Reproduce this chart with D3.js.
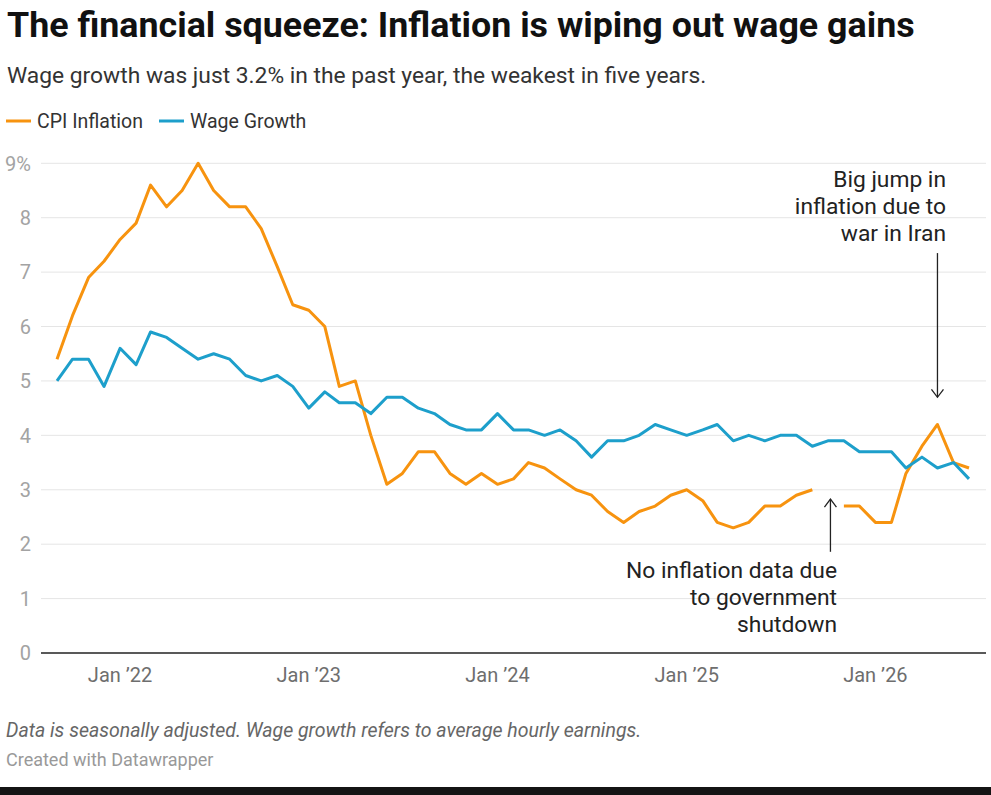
<!DOCTYPE html>
<html>
<head>
<meta charset="utf-8">
<script src="https://cdn.jsdelivr.net/npm/d3@7"></script>
<style>
  body { margin: 0; background: #fff; }
  svg { display: block; font-family: Roboto, "Noto Sans", sans-serif; }
</style>
</head>
<body>
<div id="chart"></div>
<script>
var w = 991;
var h = 795;

// monthly data, Sep 2021 - Jul 2026
var months = [
  "2021-09", "2021-10", "2021-11", "2021-12",
  "2022-01", "2022-02", "2022-03", "2022-04", "2022-05", "2022-06",
  "2022-07", "2022-08", "2022-09", "2022-10", "2022-11", "2022-12",
  "2023-01", "2023-02", "2023-03", "2023-04", "2023-05", "2023-06",
  "2023-07", "2023-08", "2023-09", "2023-10", "2023-11", "2023-12",
  "2024-01", "2024-02", "2024-03", "2024-04", "2024-05", "2024-06",
  "2024-07", "2024-08", "2024-09", "2024-10", "2024-11", "2024-12",
  "2025-01", "2025-02", "2025-03", "2025-04", "2025-05", "2025-06",
  "2025-07", "2025-08", "2025-09", "2025-10", "2025-11", "2025-12",
  "2026-01", "2026-02", "2026-03", "2026-04", "2026-05", "2026-06",
  "2026-07"
];

var cpi = [
  5.4, 6.2, 6.9, 7.2,
  7.6, 7.9, 8.6, 8.2, 8.5, 9.0, 8.5, 8.2, 8.2, 7.8, 7.1, 6.4,
  6.3, 6.0, 4.9, 5.0, 4.0, 3.1, 3.3, 3.7, 3.7, 3.3, 3.1, 3.3,
  3.1, 3.2, 3.5, 3.4, 3.2, 3.0, 2.9, 2.6, 2.4, 2.6, 2.7, 2.9,
  3.0, 2.8, 2.4, 2.3, 2.4, 2.7, 2.7, 2.9, 3.0, null, 2.7, 2.7,
  2.4, 2.4, 3.3, 3.8, 4.2, 3.5, 3.4
];

var wages = [
  5.0, 5.4, 5.4, 4.9,
  5.6, 5.3, 5.9, 5.8, 5.6, 5.4, 5.5, 5.4, 5.1, 5.0, 5.1, 4.9,
  4.5, 4.8, 4.6, 4.6, 4.4, 4.7, 4.7, 4.5, 4.4, 4.2, 4.1, 4.1,
  4.4, 4.1, 4.1, 4.0, 4.1, 3.9, 3.6, 3.9, 3.9, 4.0, 4.2, 4.1,
  4.0, 4.1, 4.2, 3.9, 4.0, 3.9, 4.0, 4.0, 3.8, 3.9, 3.9, 3.7,
  3.7, 3.7, 3.4, 3.6, 3.4, 3.5, 3.2
];

var seriesNames = ["CPI Inflation", "Wage Growth"];
var colors = ["#f7930f", "#1d9fcb"];
var yTicks = [0, 1, 2, 3, 4, 5, 6, 7, 8, 9];
var xTickYears = ["2022", "2023", "2024", "2025", "2026"];

var parseMonth = d3.timeParse("%Y-%m");
var dates = months.map(parseMonth);

var svg = d3
  .select("#chart")
  .append("svg")
  .attr("width", w)
  .attr("height", h);

svg.append("rect").attr("width", w).attr("height", h).attr("fill", "#fff");

// Header
svg.append("text")
  .attr("x", 7)
  .attr("y", 37)
  .attr("font-size", 35.8)
  .attr("font-weight", 700)
  .attr("fill", "#111")
  .text("The financial squeeze: Inflation is wiping out wage gains");

svg.append("text")
  .attr("x", 7)
  .attr("y", 83)
  .attr("font-size", 22.8)
  .attr("fill", "#333")
  .text("Wage growth was just 3.2% in the past year, the weakest in five years.");

// Legend
var legend = svg.append("g").attr("transform", "translate(6,121)");
var legendX = [0, 153];
seriesNames.forEach(function (name, i) {
  var g = legend.append("g").attr("transform", "translate(" + legendX[i] + ",0)");
  g.append("line")
    .attr("x1", 0).attr("x2", 25)
    .attr("stroke", colors[i])
    .attr("stroke-width", 3);
  g.append("text")
    .attr("x", 31)
    .attr("y", 7)
    .attr("font-size", 19.5)
    .attr("fill", "#333")
    .text(name);
});

// Scales
var plotLeft = 41;
var plotRight = 986;

const xScale = d3
  .scaleTime()
  .domain(d3.extent(dates))
  .range([57, 969]);

const yScale = d3
  .scaleLinear()
  .domain([0, 9])
  .range([653, 163.3]);

// Grid + y labels
var grid = svg.append("g");
yTicks.forEach(function (t) {
  if (t > 0) {
    grid.append("line")
      .attr("x1", plotLeft).attr("x2", plotRight)
      .attr("y1", yScale(t)).attr("y2", yScale(t))
      .attr("stroke", "#e5e5e5")
      .attr("stroke-width", 1);
  }
  grid.append("text")
    .attr("x", 31)
    .attr("y", yScale(t))
    .attr("dy", "0.36em")
    .attr("text-anchor", "end")
    .attr("font-size", 20)
    .attr("fill", "#a3a3a3")
    .text(t === 9 ? "9%" : t);
});

// x axis labels
var fmtYear = d3.timeFormat("%y");
xTickYears.forEach(function (y) {
  var d = parseMonth(y + "-01");
  svg.append("text")
    .attr("x", xScale(d))
    .attr("y", 682)
    .attr("text-anchor", "middle")
    .attr("font-size", 20)
    .attr("fill", "#6e6e6e")
    .text("Jan \u2019" + fmtYear(d));
});

// Lines
var line = d3.line()
  .defined(function (d) { return d.v !== null; })
  .x(function (d) { return xScale(d.date); })
  .y(function (d) { return yScale(d.v); });

[cpi, wages].forEach(function (vals, i) {
  var pts = vals.map(function (v, j) { return { date: dates[j], v: v }; });
  svg.append("path")
    .datum(pts)
    .attr("fill", "none")
    .attr("stroke", colors[i])
    .attr("stroke-width", 3)
    .attr("stroke-linejoin", "round")
    .attr("d", line);
});

// Baseline
svg.append("line")
  .attr("x1", plotLeft).attr("x2", plotRight)
  .attr("y1", yScale(0)).attr("y2", yScale(0))
  .attr("stroke", "#222")
  .attr("stroke-width", 1.4);

// Annotations
function arrow(x, yFrom, yTo) {
  var g = svg.append("g").attr("stroke", "#222").attr("stroke-width", 1.3).attr("fill", "none");
  g.append("line").attr("x1", x).attr("x2", x).attr("y1", yFrom).attr("y2", yTo);
  var dir = yTo > yFrom ? -1 : 1;
  g.append("path")
    .attr("d", "M" + (x - 6) + "," + (yTo + dir * 8) + "L" + x + "," + yTo + "L" + (x + 6) + "," + (yTo + dir * 8));
}

function note(x, y, lines) {
  var t = svg.append("text")
    .attr("text-anchor", "end")
    .attr("font-size", 22.8)
    .attr("fill", "#222");
  lines.forEach(function (l, i) {
    t.append("tspan").attr("x", x).attr("y", y + i * 26.8).text(l);
  });
}

var iranDate = parseMonth("2026-05");
arrow(xScale(iranDate), yScale(7.35), yScale(4.7));
note(946, 187, ["Big jump in", "inflation due to", "war in Iran"]);

var gapDate = d3.timeDay.offset(parseMonth("2025-10"), 5);
arrow(xScale(gapDate), yScale(1.86), yScale(2.83));
note(837, 578, ["No inflation data due", "to government", "shutdown"]);

// Footer
svg.append("text")
  .attr("x", 6)
  .attr("y", 737)
  .attr("font-size", 19.5)
  .attr("font-style", "italic")
  .attr("fill", "#666")
  .text("Data is seasonally adjusted. Wage growth refers to average hourly earnings.");

svg.append("text")
  .attr("x", 6)
  .attr("y", 766)
  .attr("font-size", 18)
  .attr("fill", "#999")
  .text("Created with Datawrapper");

svg.append("rect")
  .attr("x", 0).attr("y", 787)
  .attr("width", w).attr("height", 8)
  .attr("fill", "#141414");
</script>
</body>
</html>
